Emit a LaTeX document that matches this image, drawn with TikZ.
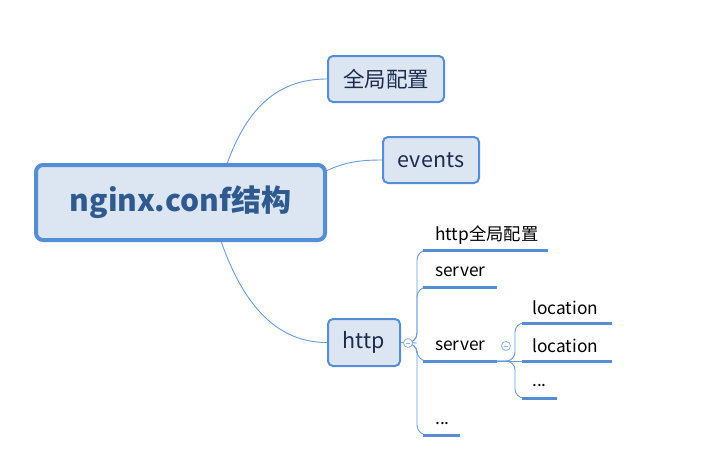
\documentclass[tikz,border=0pt]{standalone}
\usepackage{fontspec}
\setmainfont{Noto Sans CJK SC}
\usetikzlibrary{backgrounds}
\definecolor{boxfill}{HTML}{DCE6F2}
\definecolor{boxline}{HTML}{558ED5}
\definecolor{cline}{HTML}{6A9BDA}
\definecolor{maintext}{HTML}{2F5A90}
\definecolor{subtext}{HTML}{1C2B4F}
\definecolor{knob}{HTML}{8FB3E3}
\tikzset{
  mainbox/.style={draw=boxline, line width=4pt, fill=boxfill, rounded corners=7pt, inner sep=0pt,
    minimum width=289pt, minimum height=75pt, text=maintext, font=\fontsize{30}{34}\selectfont\bfseries},
  subbox/.style={draw=boxline, line width=2pt, fill=boxfill, rounded corners=5pt, inner sep=0pt,
    minimum height=46pt, text=subtext, font=\fontsize{21.5}{25}\selectfont},
  leaf/.style={anchor=west, inner sep=0pt, text=black, font=\fontsize{17.3}{20}\selectfont},
  conn/.style={draw=cline, line width=0.9pt},
  uline/.style={draw=boxline, line width=3pt},
  knobc/.style={circle, draw=knob, fill=white, line width=0.8pt, minimum size=9pt, inner sep=0pt},
}
\begin{document}
\begin{tikzpicture}[x=1pt,y=-1pt]
\useasboundingbox (0,0) rectangle (723,467);
\node[mainbox] (root) at (180.5,202.5) {nginx.conf结构};
\coordinate (rt) at (227,164);
\coordinate (rr) at (326,171);
\coordinate (rb) at (221,241);
\node[subbox, minimum width=116pt] (glob) at (386,79) {全局配置};
\node[subbox, minimum width=96pt] (events) at (431,160) {events};
\node[subbox, minimum width=72pt, minimum height=47pt] (http) at (364,342.5) {http};
\begin{scope}[on background layer]
\draw[conn] (rt) .. controls (248,105) and (280,79) .. (glob.west);
\draw[conn] (rr) .. controls (345,162) and (360,160) .. (events.west);
\draw[conn] (rb) .. controls (245,310) and (280,342.5) .. (http.west);
\end{scope}
% http children
\node[leaf] (c1) at (435,235) {http全局配置};
\node[leaf] (c2) at (435,272) {server};
\node[leaf] (c3) at (435,346) {server};
\node[leaf] (c4) at (435,424) {...};
\coordinate (u1a) at (423,250); \coordinate (u1b) at (548,250);
\coordinate (u2a) at (423,287); \coordinate (u2b) at (497,287);
\coordinate (u3a) at (423,361); \coordinate (u3b) at (497,361);
\coordinate (u4a) at (423,435); \coordinate (u4b) at (460,435);
\coordinate (hb) at (417,343);
\coordinate (hs) at (412,343);
\draw[conn] (http.east) -- (hb);
\foreach \u in {u1a,u2a,u3a,u4a}{
  \draw[conn, rounded corners=10pt] (hs) -- (hb) |- (\u);
}
\draw[uline] (u1a) -- (u1b);
\draw[uline] (u2a) -- (u2b);
\draw[uline] (u3a) -- (u3b);
\draw[uline] (u4a) -- (u4b);
\node[knobc] (k1) at (408,343) {};
\draw[knob, line width=0.8pt] ([xshift=-2.3pt]k1.center) -- ([xshift=2.3pt]k1.center);
% server children
\node[leaf] (l1) at (532,308) {location};
\node[leaf] (l2) at (532,346) {location};
\node[leaf] (l3) at (532,386) {...};
\coordinate (v1a) at (522,323); \coordinate (v1b) at (612,323);
\coordinate (v2a) at (522,361); \coordinate (v2b) at (612,361);
\coordinate (v3a) at (522,398); \coordinate (v3b) at (557,398);
\coordinate (sb) at (515,361);
\draw[conn] (u3b) -- (v2a);
\draw[conn, rounded corners=9pt] (u3b) -- (sb) |- (v1a);
\draw[conn, rounded corners=9pt] (u3b) -- (sb) |- (v3a);
\draw[uline] (v1a) -- (v1b);
\draw[uline] (v2a) -- (v2b);
\draw[uline] (v3a) -- (v3b);
\node[knobc] (k2) at (506,346) {};
\draw[knob, line width=0.8pt] ([xshift=-2.3pt]k2.center) -- ([xshift=2.3pt]k2.center);
\end{tikzpicture}
\end{document}
